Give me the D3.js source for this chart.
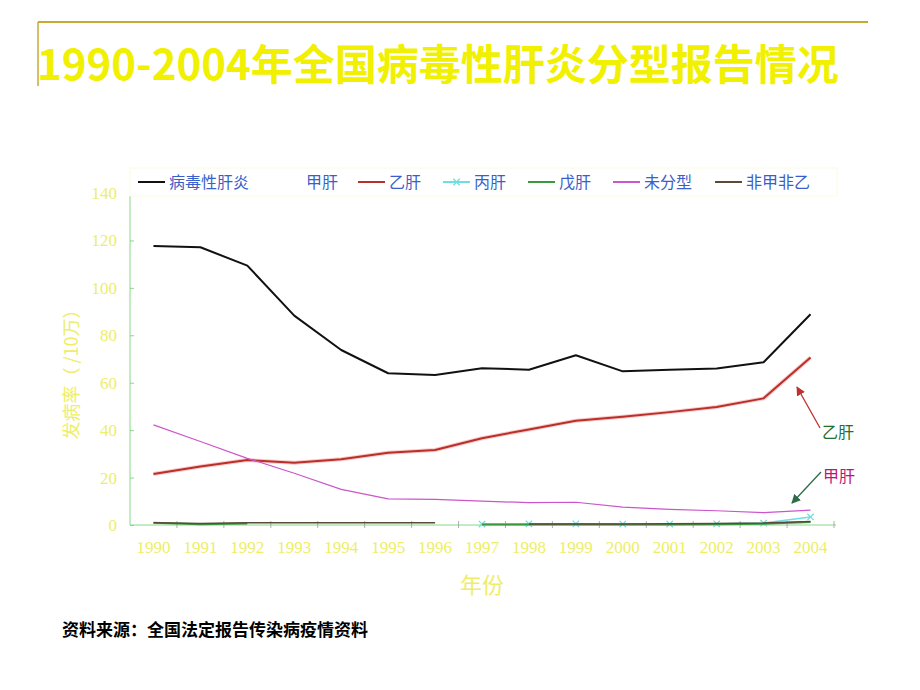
<!DOCTYPE html>
<html>
<head>
<meta charset="utf-8">
<script src="https://cdn.jsdelivr.net/npm/d3@7"></script>
<style>
  body { margin: 0; background: #fff; }
  svg { display: block; }
</style>
</head>
<body>
<svg id="chart" width="920" height="690"></svg>
<script>
const years = ['1990','1991','1992','1993','1994','1995','1996','1997','1998','1999','2000','2001','2002','2003','2004'];
const yTicks = [0, 20, 40, 60, 80, 100, 120, 140];

// 发病率 (/10万); null = not reported
const total   = [117.7, 117.1, 109.4, 88.3, 73.8, 64.0, 63.3, 66.1, 65.5, 71.6, 64.8, 65.5, 66.0, 68.6, 88.9];
const hepB    = [21.5, 24.7, 27.4, 26.3, 27.7, 30.5, 31.6, 36.6, 40.3, 44.0, 45.6, 47.6, 49.8, 53.4, 70.6];
const hepC    = [null, null, null, null, null, null, null, 0.4, 0.5, 0.5, 0.4, 0.4, 0.5, 0.8, 3.4];
const hepE    = [0.9, 0.3, 0.6, null, null, null, null, 0.2, 0.2, 0.2, 0.2, 0.2, 0.3, 0.5, 1.3];
const untyped = [42.2, 35.2, 28.1, 21.8, 15.0, 11.0, 10.8, 10.1, 9.4, 9.6, 7.5, 6.6, 6.0, 5.2, 6.3];
const nanb    = [1.0, 0.6, 0.9, 0.9, 0.9, 0.9, 0.9, null, 0.4, 0.4, 0.4, 0.5, 0.6, 0.8, 1.5];

const series = [
    { name: '病毒性肝炎', values: total, color: '#111', width: 2 },
    { name: '甲肝', values: null, color: '#fff', width: 2 },
    { name: '乙肝', values: hepB, color: '#b8302a', width: 2, glow: '#fbc8c8' },
    { name: '丙肝', values: hepC, color: '#70dde0', width: 1.5, marker: true },
    { name: '戊肝', values: hepE, color: '#3a9a3a', width: 2 },
    { name: '未分型', values: untyped, color: '#cc55cc', width: 1.2 },
    { name: '非甲非乙', values: nanb, color: '#5a4a3a', width: 1.5 }
];

const svg = d3.select('#chart');
const yellow = '#f0f000';
const tickYellow = '#eeee66';
const axisGreen = '#88d888';

// decorative frame
svg.append('line').attr('x1', 38).attr('x2', 868).attr('y1', 22).attr('y2', 22)
    .attr('stroke', '#c8aa30').attr('stroke-width', 2);
svg.append('line').attr('x1', 38).attr('x2', 38).attr('y1', 22).attr('y2', 86)
    .attr('stroke', '#c8aa30').attr('stroke-width', 1.5);

svg.append('text')
    .attr('x', 37).attr('y', 80)
    .attr('fill', yellow)
    .style('font-family', '"Noto Sans CJK SC", sans-serif')
    .style('font-weight', 'bold')
    .style('font-size', '42px')
    .text('1990-2004年全国病毒性肝炎分型报告情况');

const x = d3.scaleBand().domain(years).range([130, 834]);
const y = d3.scaleLinear().domain([0, 140]).range([525, 193]);
const cx = (d) => x(d) + x.bandwidth() / 2;

// y axis
const yAxis = svg.append('g').attr('transform', 'translate(130,0)')
    .call(d3.axisLeft(y).tickValues(yTicks).tickSize(-4).tickPadding(13));
yAxis.select('.domain').attr('stroke', axisGreen).attr('d', `M0,${y(0)}V196`);
yAxis.selectAll('.tick line').attr('stroke', axisGreen);
yAxis.selectAll('.tick text')
    .attr('fill', tickYellow)
    .style('font-family', '"Liberation Serif", serif')
    .style('font-size', '17px');

svg.append('text')
    .attr('transform', 'translate(78,370) rotate(-90)')
    .attr('text-anchor', 'middle')
    .attr('fill', tickYellow)
    .style('font-family', '"Noto Sans CJK SC", serif')
    .style('font-size', '18px')
    .text('发病率（ /10万）');

// x axis
const xAxis = svg.append('g').attr('transform', `translate(0,${y(0)})`)
    .call(d3.axisBottom(x).tickSize(0).tickPadding(16));
xAxis.select('.domain').attr('stroke', axisGreen).attr('d', 'M130,0H836');
xAxis.selectAll('.tick text')
    .attr('fill', tickYellow)
    .style('font-family', '"Liberation Serif", serif')
    .style('font-size', '17px');
xAxis.selectAll('.boundary')
    .data(years.slice(1).concat(['end']))
    .join('line')
    .attr('x1', (d) => (d === 'end' ? x.range()[1] : x(d)))
    .attr('x2', (d) => (d === 'end' ? x.range()[1] : x(d)))
    .attr('y1', -4).attr('y2', 3)
    .attr('stroke', '#999').attr('stroke-width', 0.8);

svg.append('text')
    .attr('x', 482).attr('y', 593)
    .attr('text-anchor', 'middle')
    .attr('fill', tickYellow)
    .style('font-family', '"Noto Sans CJK SC", serif')
    .style('font-size', '22px')
    .text('年份');

// lines
const line = d3.line()
    .defined((d) => d.v !== null)
    .x((d) => cx(d.year))
    .y((d) => y(d.v));

const plotted = series.filter((s) => s.values);
const paths = svg.append('g');
plotted.forEach((s) => {
    const pts = years.map((year, i) => ({ year, v: s.values[i] }));
    if (s.glow)
        paths.append('path').attr('d', line(pts)).attr('fill', 'none')
            .attr('stroke', s.glow).attr('stroke-width', 4).attr('stroke-linejoin', 'round');
    paths.append('path').attr('d', line(pts)).attr('fill', 'none')
        .attr('stroke', s.color).attr('stroke-width', s.width).attr('stroke-linejoin', 'round');
    if (s.marker)
        paths.selectAll(null)
            .data(pts.filter((d) => d.v !== null))
            .join('path')
            .attr('transform', (d) => `translate(${cx(d.year)},${y(d.v)})`)
            .attr('d', d3.symbol(d3.symbolX, 28))
            .attr('fill', 'none')
            .attr('stroke', s.color).attr('stroke-width', 1.3);
});

// legend
const legend = svg.append('g');
legend.append('rect').attr('x', 130).attr('y', 168).attr('width', 707).attr('height', 28)
    .attr('fill', '#fff').attr('stroke', '#fbfbe0');
const legendX = [138, 275, 358, 443, 528, 613, 715];
const items = legend.selectAll('g.item')
    .data(series)
    .join('g')
    .attr('class', 'item')
    .attr('transform', (d, i) => `translate(${legendX[i]},182)`);
items.append('line').attr('x1', 0).attr('x2', 27).attr('y1', 0).attr('y2', 0)
    .attr('stroke', (d) => d.color).attr('stroke-width', 2);
items.filter((d) => d.marker).append('path')
    .attr('transform', 'translate(13.5,0)')
    .attr('d', d3.symbol(d3.symbolX, 28))
    .attr('fill', 'none').attr('stroke', (d) => d.color).attr('stroke-width', 1.3);
items.append('text')
    .attr('x', 31).attr('y', 6)
    .attr('fill', '#3a5fc8')
    .style('font-family', '"Noto Sans CJK SC", serif')
    .style('font-size', '16px')
    .text((d) => d.name);

// annotations
const defs = svg.append('defs');
[['arrowRed', '#c03030'], ['arrowGreen', '#2f6a4a']].forEach(([id, c]) => {
    defs.append('marker').attr('id', id).attr('viewBox', '0 0 10 10')
        .attr('refX', 9).attr('refY', 5).attr('markerWidth', 7).attr('markerHeight', 7)
        .attr('orient', 'auto-start-reverse')
        .append('path').attr('d', 'M0,0L10,5L0,10z').attr('fill', c);
});
svg.append('line').attr('x1', 820).attr('y1', 428).attr('x2', 797).attr('y2', 387)
    .attr('stroke', '#c03030').attr('stroke-width', 1.3).attr('marker-end', 'url(#arrowRed)');
svg.append('text').attr('x', 822).attr('y', 438).attr('fill', '#207030')
    .style('font-family', '"Noto Sans CJK SC", sans-serif').style('font-size', '16px').text('乙肝');
svg.append('line').attr('x1', 821).attr('y1', 472).attr('x2', 792).attr('y2', 503)
    .attr('stroke', '#2f6a4a').attr('stroke-width', 1.3).attr('marker-end', 'url(#arrowGreen)');
svg.append('text').attr('x', 823).attr('y', 482).attr('fill', '#c0107a')
    .style('font-family', '"Noto Sans CJK SC", sans-serif').style('font-size', '16px').text('甲肝');

// source
svg.append('text')
    .attr('x', 62).attr('y', 636)
    .attr('fill', '#000')
    .style('font-family', '"Noto Sans CJK SC", sans-serif')
    .style('font-weight', 'bold')
    .style('font-size', '17px')
    .text('资料来源：全国法定报告传染病疫情资料');
</script>
</body>
</html>
